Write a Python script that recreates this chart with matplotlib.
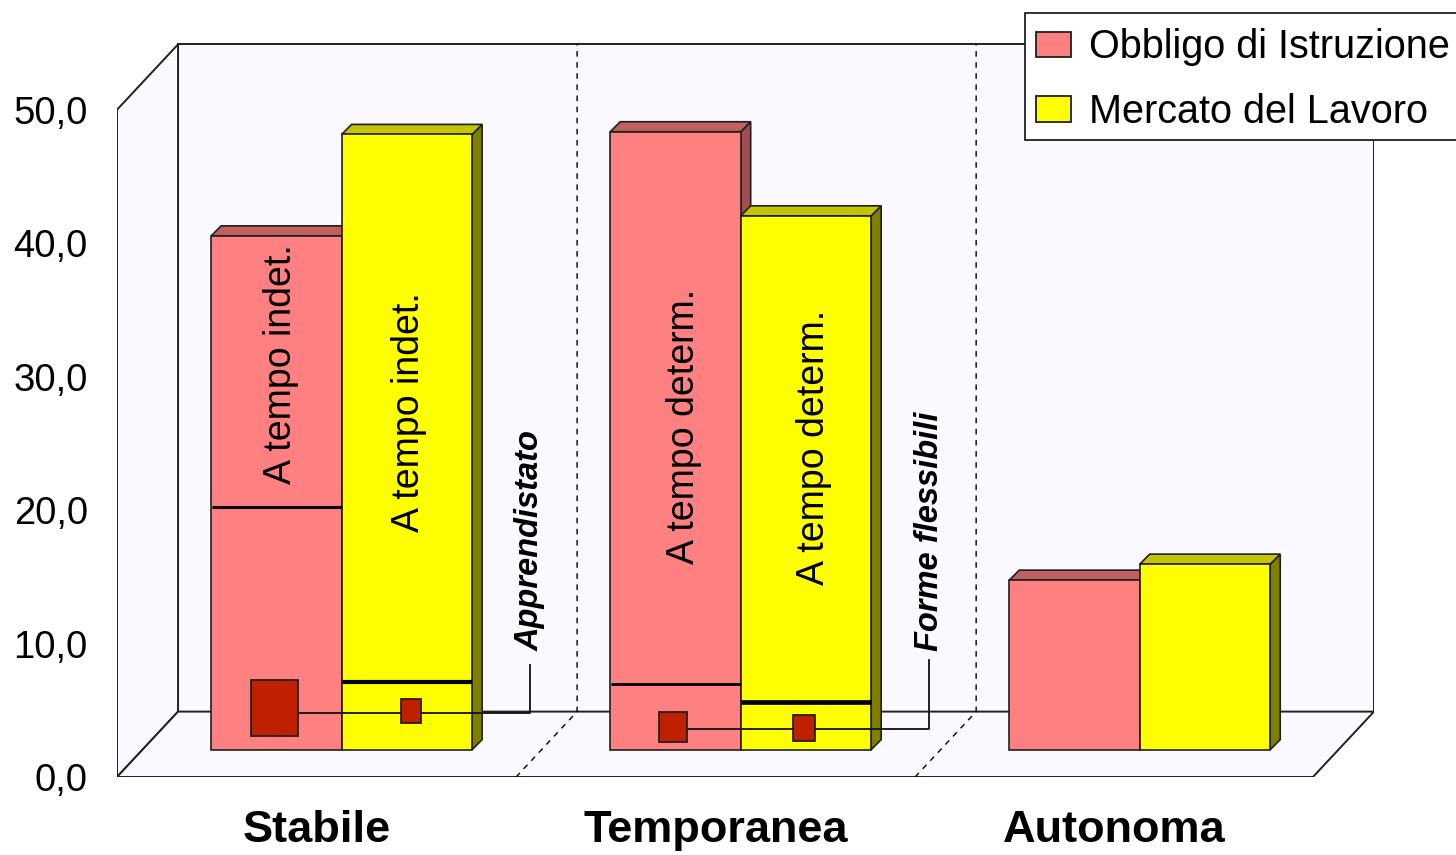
import matplotlib
matplotlib.use("Agg")
import matplotlib.pyplot as plt
from matplotlib.patches import Patch, Rectangle

plt.rcParams['font.family'] = ['Liberation Sans', 'DejaVu Sans']

categories = ['Stabile', 'Temporanea', 'Autonoma']
series_names = ['Obbligo di Istruzione', 'Mercato del Lavoro']
y_ticks = [0, 10, 20, 30, 40, 50]
y_tick_labels = ['0,0', '10,0', '20,0', '30,0', '40,0', '50,0']

# bar heights, measured from the foot of the bar
obbligo = [38.5, 46.3, 12.7]
mercato = [46.1, 40.0, 13.9]
# the black line inside the bars (only first two groups have one)
obbligo_split = [18.2, 4.9]
mercato_split = [5.1, 3.6]
# low / high of the small dark squares
obbligo_box_low = [1.0, 0.6]
obbligo_box_high = [5.25, 2.8]
mercato_box_low = [2.0, 0.67]
mercato_box_high = [3.8, 2.6]
# level of the line joining the squares
join_level = [2.75, 1.55]

bar_labels = [['A tempo indet.', 'A tempo indet.'], ['A tempo determ.', 'A tempo determ.']]
join_labels = ['Apprendistato', 'Forme flessibili']

# layout, in axis units
DX = 0.153
DY = 4.9
FOOT = 2.05
BAR_W = 0.327
BAR_X0 = -0.264
BD_X = 0.025
BD_Y = 0.75
YMAX = 55.0
XMAX = 2.65
BOX_W = [[0.118, 0.05], [0.07, 0.055]]
BOX_X = [[-0.105, 0.237], [-0.107, 0.222]]

RED = '#FF8080'
RED_TOP = '#C06060'
RED_SIDE = '#A04F4F'
YEL = '#FFFF00'
YEL_TOP = '#C4C400'
YEL_SIDE = '#808000'
WALL = '#F9F9FF'
BOX = '#BF2000'
EDGE = '#202020'

fig = plt.figure(figsize=(14.56, 8.55), dpi=100)
ax = fig.add_axes([117 / 1456, 78 / 855, (1374 - 117) / 1456, (777 - 43) / 855])
ax.set_xlim(-0.5, XMAX)
ax.set_ylim(0, YMAX)
for s in ax.spines.values():
    s.set_visible(False)
ax.patch.set_visible(False)

ax.set_yticks(y_ticks)
ax.set_yticklabels(y_tick_labels, fontsize=27.5)
ax.set_xticks(range(len(categories)))
ax.set_xticklabels(categories, fontsize=32.5, fontweight='bold')
ax.tick_params(axis='y', length=0, pad=21)
ax.tick_params(axis='x', length=0, pad=24)

# walls and floor
ax.fill([-0.5 + DX, XMAX, XMAX, -0.5 + DX], [DY, DY, 50 + DY, 50 + DY], fc=WALL, ec=EDGE, lw=1.4, zorder=1)
ax.fill([-0.5, -0.5 + DX, -0.5 + DX, -0.5], [0, DY, 50 + DY, 50], fc=WALL, ec=EDGE, lw=1.4, zorder=1)
ax.fill([-0.5, XMAX - DX, XMAX, -0.5 + DX], [0, 0, DY, DY], fc=WALL, ec=EDGE, lw=1.4, zorder=1)

for i in range(2):
    ax.plot([i + 0.5, i + 0.5 + DX, i + 0.5 + DX], [0, DY, 50 + DY], color='black', lw=1, ls=(0, (4, 4)), zorder=2)


def draw_bar(x, height, front, top, side, zorder):
    y0 = FOOT
    y1 = FOOT + height
    ax.fill([x + BAR_W, x + BAR_W + BD_X, x + BAR_W + BD_X, x + BAR_W],
            [y0, y0 + BD_Y, y1 + BD_Y, y1], fc=side, ec=EDGE, lw=1.2, zorder=zorder)
    ax.fill([x, x + BD_X, x + BAR_W + BD_X, x + BAR_W],
            [y1, y1 + BD_Y, y1 + BD_Y, y1], fc=top, ec=EDGE, lw=1.2, zorder=zorder)
    ax.fill([x, x + BAR_W, x + BAR_W, x], [y0, y0, y1, y1], fc=front, ec=EDGE, lw=1.2, zorder=zorder)


for i in range(len(categories)):
    x_r = i + BAR_X0
    draw_bar(x_r, obbligo[i], RED, RED_TOP, RED_SIDE, 3)
    draw_bar(x_r + BAR_W, mercato[i], YEL, YEL_TOP, YEL_SIDE, 4)

# black lines inside the bars
lw_red = [2.2, 2.0]
lw_yel = [3.0, 3.4]
for i in range(2):
    x_r = i + BAR_X0
    x_y = x_r + BAR_W
    ax.plot([x_r + 0.003, x_y], [FOOT + obbligo_split[i]] * 2, color='black', lw=lw_red[i], solid_capstyle='butt', zorder=5)
    ax.plot([x_y, x_y + BAR_W], [FOOT + mercato_split[i]] * 2, color='black', lw=lw_yel[i], solid_capstyle='butt', zorder=5)

# join line and squares
join_x = [0.535, 1.535]
join_top = [8.4, 8.75]
for i in range(2):
    xc_r = i + BOX_X[i][0]
    xc_y = i + BOX_X[i][1]
    lev = FOOT + join_level[i]
    ax.plot([xc_r, join_x[i], join_x[i]], [lev, lev, join_top[i]], color='#101010', lw=1.3, zorder=6)
    for xc, low, high, w in [(xc_r, obbligo_box_low[i], obbligo_box_high[i], BOX_W[i][0]),
                             (xc_y, mercato_box_low[i], mercato_box_high[i], BOX_W[i][1])]:
        ax.fill([xc - w / 2, xc + w / 2, xc + w / 2, xc - w / 2],
                [FOOT + low, FOOT + low, FOOT + high, FOOT + high], fc=BOX, ec=EDGE, lw=1.3, zorder=7)

# rotated labels
text_pos = [[(-0.09, 30.93), (0.232, 27.35)], [(0.92, 26.3), (1.246, 24.67)]]
for i in range(2):
    for j in range(2):
        ax.text(text_pos[i][j][0], text_pos[i][j][1], bar_labels[i][j], rotation=90, fontsize=27,
                ha='center', va='center', color='black', zorder=8)
ax.text(0.535, 17.75, join_labels[0], rotation=90, fontsize=23.5, fontweight='bold', fontstyle='italic',
        ha='center', va='center', zorder=8)
ax.text(1.536, 18.4, join_labels[1], rotation=90, fontsize=23.5, fontweight='bold', fontstyle='italic',
        ha='center', va='center', zorder=8)

# the frame runs off the right edge of the picture
fig.add_artist(Rectangle((1025 / 1456, 1 - 140 / 855), 440 / 1456, 127 / 855, transform=fig.transFigure,
                         fc='white', ec=EDGE, lw=1.3, zorder=19))
handles = [Patch(fc=RED, ec=EDGE, lw=1.3), Patch(fc=YEL, ec=EDGE, lw=1.3)]
leg = fig.legend(handles, series_names, loc='upper left', bbox_to_anchor=(1036 / 1456, 1 - 28.5 / 855),
                 fontsize=28.5, frameon=False, borderaxespad=0, borderpad=0, handlelength=0.88, handleheight=0.62,
                 handletextpad=0.45, labelspacing=0.66)
leg.set_zorder(20)

fig.savefig('out.png', dpi=100)
